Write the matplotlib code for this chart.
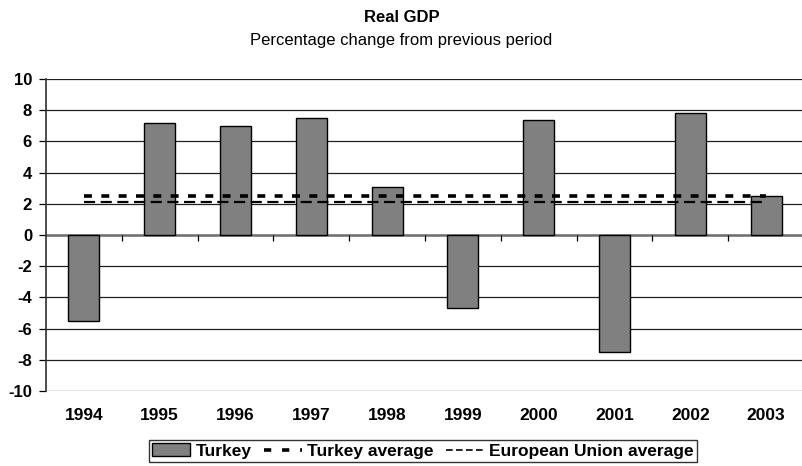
import matplotlib
matplotlib.use('Agg')
import matplotlib.pyplot as plt
from matplotlib.patches import Patch
from matplotlib.lines import Line2D

# Real GDP, percentage change from previous period
years = ['1994', '1995', '1996', '1997', '1998', '1999', '2000', '2001', '2002', '2003']
turkey = [-5.5, 7.2, 7.0, 7.5, 3.1, -4.7, 7.4, -7.5, 7.8, 2.5]
turkey_avg = 2.5
eu_avg = 2.1

plt.rcParams['font.family'] = ['Liberation Sans', 'DejaVu Sans']
plt.rcParams['axes.unicode_minus'] = False

fig = plt.figure(figsize=(8.03, 4.66), dpi=100)
ax = fig.add_axes([46 / 803, 1 - 391 / 466, 758 / 803, 312 / 466])

x = list(range(len(years)))
ax.bar(x, turkey, width=0.41, color='#808080', edgecolor='black', linewidth=1.0, zorder=3)

# averages run from the first to the last category
ax.plot([x[0], x[-1]], [turkey_avg, turkey_avg], color='black', lw=2.6,
        dashes=(2.2, 2.6), zorder=4)
ax.plot([x[0], x[-1]], [eu_avg, eu_avg], color='black', lw=1.6,
        dashes=(5, 2.5), zorder=4)

ax.set_xlim(-0.5, len(years) - 0.5)
ax.set_ylim(-10, 10)
ax.set_yticks(range(-10, 11, 2))
ax.yaxis.grid(True, color='#202020', lw=0.9)
ax.set_axisbelow(True)

# zero line acts as the category axis
ax.axhline(0, color='#707070', lw=1.8, zorder=2)
ax.vlines([i + 0.5 for i in x[:-1]], -0.4, 0, color='black', lw=0.9, zorder=2)

for side in ['top', 'right', 'bottom']:
    ax.spines[side].set_visible(False)
ax.spines['left'].set_color('#303030')
ax.spines['left'].set_linewidth(1.2)

ax.set_xticks(x)
ax.set_xticklabels(years, fontweight='bold', fontsize=12.5)
ax.tick_params(axis='x', length=0, pad=12)
ax.tick_params(axis='y', length=5, width=0.9, labelsize=12, pad=5)
for lbl in ax.get_yticklabels():
    lbl.set_fontweight('bold')

fig.text(0.5, 1 - 17 / 466, 'Real GDP', ha='center', va='center',
         fontweight='bold', fontsize=12)
fig.text(0.5, 1 - 40 / 466, 'Percentage change from previous period',
         ha='center', va='center', fontsize=12)

handles = [
    Patch(facecolor='#808080', edgecolor='black', lw=1.0),
    Line2D([], [], color='black', lw=2.6, dashes=(2.0, 3.0)),
    Line2D([], [], color='black', lw=1.2, dashes=(4, 2)),
]
leg = fig.legend(handles, ['Turkey', 'Turkey average', 'European Union average'],
                 loc='center', bbox_to_anchor=(423 / 803, 1 - 451 / 466), ncol=3,
                 frameon=True, fancybox=False, edgecolor='black',
                 prop={'weight': 'bold', 'size': 12.5}, handlelength=2.2,
                 handletextpad=0.3, columnspacing=0.7, borderpad=0.2,
                 borderaxespad=0)
leg.get_frame().set_linewidth(1.0)

fig.savefig('out.png', dpi=100)
